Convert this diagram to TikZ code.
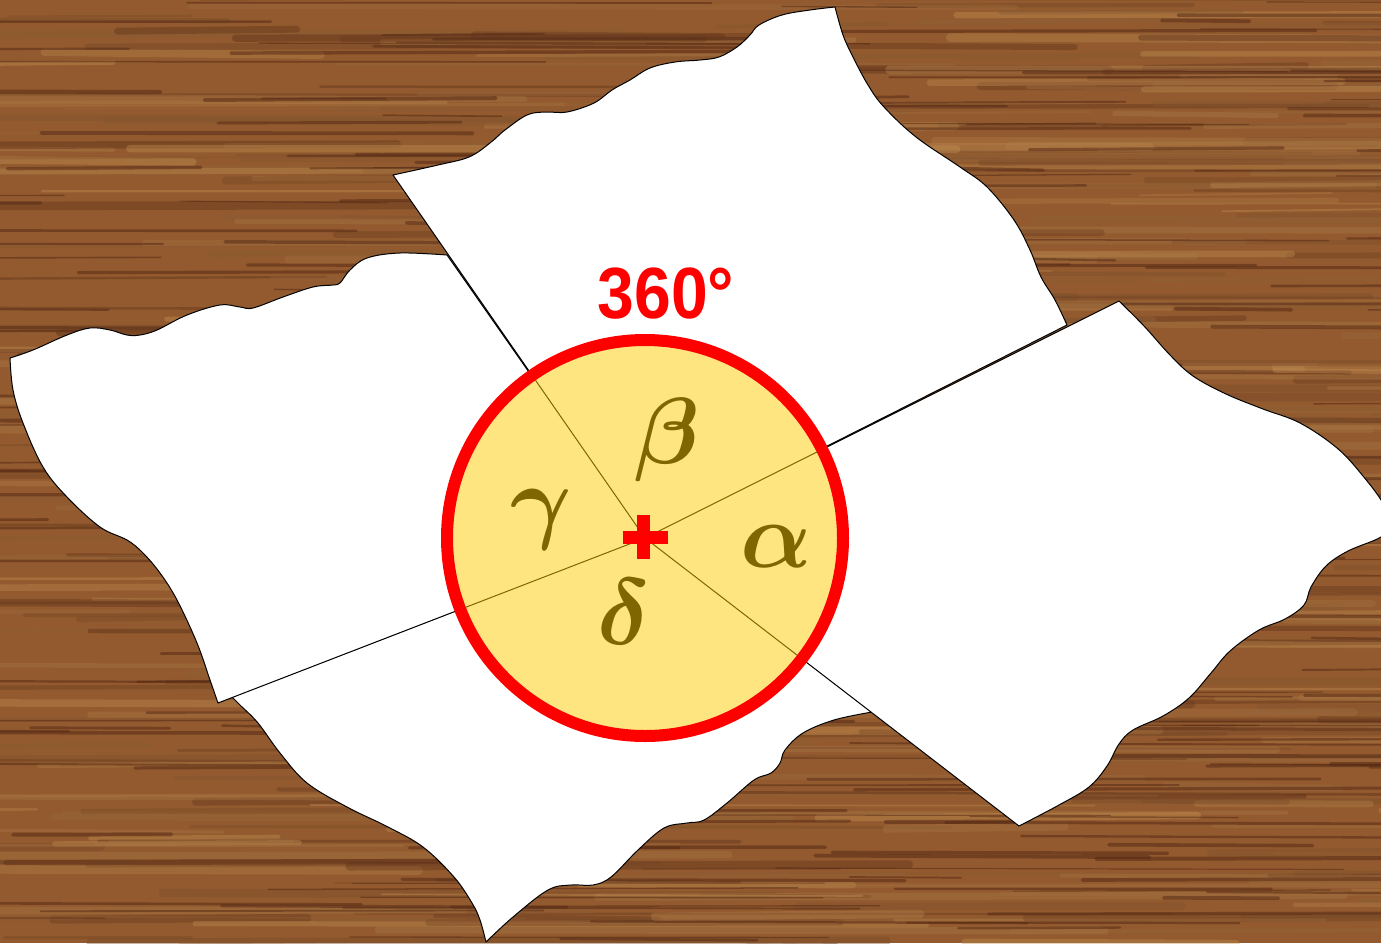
\documentclass[tikz,border=0pt]{standalone}
\usepackage{fontspec}
\newfontfamily\labelfont{Liberation Sans}
\definecolor{woodbase}{RGB}{146,90,46}
\definecolor{wooddark}{RGB}{84,40,20}
\definecolor{woodlight}{RGB}{200,148,86}
\definecolor{circfill}{RGB}{255,229,128}
\definecolor{olivelet}{RGB}{128,102,0}
\tikzset{
  paper/.style={fill=white, draw=black, line width=0.5pt, line join=round},
  ray/.style={draw=olivelet, line width=0.5pt},
  ring/.style={draw=red, line width=6pt},
  greek/.style={text=olivelet, inner sep=0pt, font=\boldmath, scale=4.7},
  degree/.style={text=red, inner sep=0pt, font=\labelfont\bfseries\fontsize{36.3}{40}\selectfont, xscale=0.91}
}
\begin{document}
\begin{tikzpicture}[x=0.5pt,y=-0.5pt]
\useasboundingbox (0,0) rectangle (1381,943);
\clip (0,0) rectangle (1381,943);
% wood background
\fill[woodbase] (0,0) rectangle (1381,943);
\pgfmathsetseed{4242}
\foreach \i in {1,...,420}{
  \pgfmathsetmacro{\yy}{rnd*960-10}
  \pgfmathsetmacro{\xa}{rnd*1600-200}
  \pgfmathsetmacro{\ll}{150+rnd*700}
  \pgfmathsetmacro{\ww}{0.8+rnd*3.5}
  \pgfmathsetmacro{\dy}{rnd*6-3}
  \pgfmathtruncatemacro{\pp}{rnd*100}
  \draw[line width=\ww pt, color=woodlight!\pp!wooddark, opacity=0.4, line cap=round] (\xa,\yy) -- ++(\ll,\dy);
}
\foreach \i in {1,...,260}{
  \pgfmathsetmacro{\yy}{rnd*960-10}
  \pgfmathsetmacro{\xa}{rnd*1600-200}
  \pgfmathsetmacro{\ll}{80+rnd*500}
  \pgfmathsetmacro{\ww}{0.5+rnd*1.5}
  \pgfmathsetmacro{\dy}{rnd*4-2}
  \draw[line width=\ww pt, color=wooddark, opacity=0.5, line cap=round] (\xa,\yy) -- ++(\ll,\dy);
}
% key points
\coordinate (O) at (645,538);
\coordinate (nw) at (393,175);
\coordinate (ne) at (1119,301);
\coordinate (se) at (1019,826);
\coordinate (sw) at (218,703);
\coordinate (nwL) at (447,255);
\coordinate (neT) at (1067,325);
\coordinate (swB) at (232,697);
\coordinate (seB) at (872,712);
% bottom paper (delta)
\draw[paper] (O) -- (swB) -- plot[smooth, tension=0.6] coordinates {(232,697) (240,705) (258,723) (280,753) (307,783) (347,807) (388,827) (423,847) (454,877) (472,903) (480,920) (486,942)}
  -- plot[smooth, tension=0.6] coordinates {(486,942) (513,917) (548,890) (571,885) (593,885) (611,877) (638,850) (664,828) (687,823) (704,820) (727,803) (754,780) (771,773) (780,763) (785,750) (803,733) (834,720) (872,712)} -- cycle;
% left paper (gamma)
\draw[paper] (O) -- (sw) -- plot[smooth, tension=0.6] coordinates {(218,703) (210,680) (197,643) (177,600) (160,573) (143,553) (127,540) (100,527) (67,497) (43,467) (23,423) (13,390) (10,358)}
  -- plot[smooth, tension=0.6] coordinates {(10,358) (33,350) (67,335) (90,328) (110,330) (127,335) (140,335) (157,330) (187,315) (220,305) (240,307) (253,308) (283,297) (313,287) (333,285) (340,283) (350,270) (367,258) (400,253) (447,255)} -- cycle;
% top paper (beta)
\draw[paper] (O) -- (nw) -- plot[smooth, tension=0.6] coordinates {(393,175) (438,165) (469,157) (490,143) (505,130) (527,115) (545,112) (567,112) (594,103) (612,90) (630,80) (650,68) (675,62) (700,60) (719,57) (737,47) (750,35) (759,25) (782,15) (810,10) (835,7)}
  -- plot[smooth, tension=0.6] coordinates {(835,7) (843,35) (853,57) (868,85) (884,107) (916,137) (960,167) (987,187) (1014,220) (1030,250) (1041,277) (1055,300) (1067,325)} -- cycle;
% right paper (alpha)
\draw[paper] (O) -- (ne) -- plot[smooth, tension=0.6] coordinates {(1119,301) (1144,326) (1170,355) (1193,376) (1226,394) (1263,409) (1300,423) (1337,448) (1363,476) (1384,505) (1388,525) (1381,537) (1348,551) (1326,566) (1311,587) (1304,605) (1285,619) (1259,630) (1230,651) (1211,673) (1189,698) (1163,716) (1133,730) (1119,744) (1107,766) (1089,787) (1059,805) (1019,826)} -- cycle;
% circle
\fill[circfill] (O) circle[radius=99pt];
\begin{scope}
  \clip (O) circle[radius=96pt];
  \draw[ray] (O) -- (nw);
  \draw[ray] (O) -- (ne);
  \draw[ray] (O) -- (se);
  \draw[ray] (O) -- (sw);
\end{scope}
\draw[ring] (O) circle[radius=99pt];
% centre cross
\fill[red] (623,531) rectangle (668,544);
\fill[red] (637,515) rectangle (650,559);
% labels
\node[greek] (alpha) at (776,547) {$\alpha$};
\node[greek] (beta) at (667,440) {$\beta$};
\node[greek] (gamma) at (541,520) {$\gamma$};
\node[greek] (delta) at (624,612) {$\delta$};
\node[degree] (full) at (666,294) {360°};
\end{tikzpicture}
\end{document}
